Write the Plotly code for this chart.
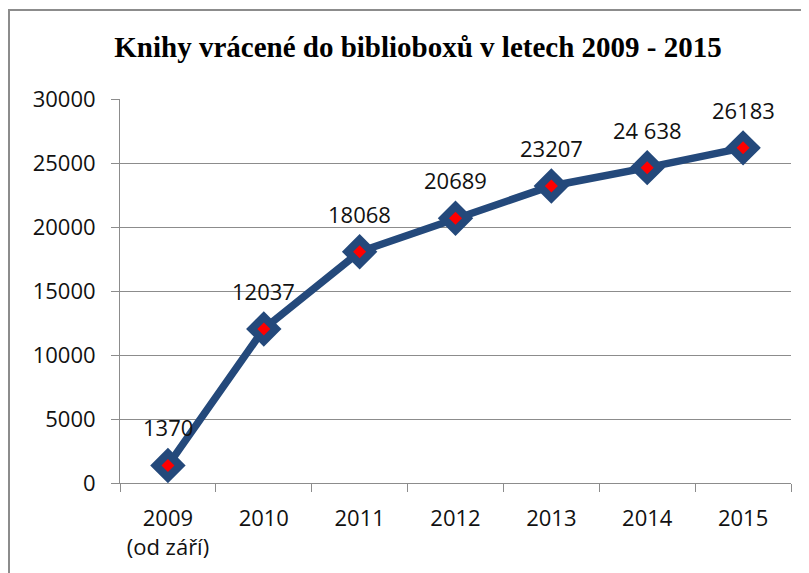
import plotly.graph_objects as go

years = ["2009<br>(od září)", "2010", "2011", "2012", "2013", "2014", "2015"]
values = [1370, 12037, 18068, 20689, 23207, 24638, 26183]
labels = ["1370", "12037", "18068", "20689", "23207", "24 638", "26183"]
y_ticks = [0, 5000, 10000, 15000, 20000, 25000, 30000]

OFF = 8  # page body margin
W, H = 809, 573
L, T = 120 - OFF, 99 - OFF
pw, ph = 671, 384
R, B = W - L - pw, H - T - ph

def px(x):
    return (x - OFF - L) / pw

def py(y):
    return (T + ph - (y - OFF)) / ph

blue = "#24497B"
font_fam = "Open Sans, Lato, sans-serif"

fig = go.Figure()
fig.add_trace(go.Scatter(
    x=years, y=values, mode="lines+markers",
    line=dict(color=blue, width=7.5),
    marker=dict(symbol="diamond", size=24, color=blue, line=dict(color=blue, width=3)),
    hoverinfo="skip", showlegend=False,
))
fig.add_trace(go.Scatter(
    x=years, y=values, mode="markers",
    marker=dict(symbol="diamond", size=10, color="#FF0000"),
    showlegend=False,
))
for i, (yv, lab) in enumerate(zip(values, labels)):
    fig.add_annotation(
        x=i, y=yv, text=lab, showarrow=False, yshift=38,
        xanchor="center", yanchor="middle",
        font=dict(family=font_fam, size=22, color="#111111"),
    )

fig.update_layout(
    width=W, height=H,
    margin=dict(l=L, r=R, t=T, b=B, autoexpand=False),
    paper_bgcolor="white", plot_bgcolor="white",
    title=dict(
        text="<b>Knihy vrácené do biblioboxů v letech 2009 - 2015</b>",
        x=(418 - OFF) / W, xanchor="center",
        y=1 - (47 - OFF) / H, yanchor="middle",
        font=dict(family="Liberation Serif, Times New Roman, serif", size=29, color="black"),
    ),
    font=dict(family=font_fam, size=22, color="#111111"),
    shapes=[dict(
        type="rect", xref="paper", yref="paper",
        x0=px(9), x1=px(830), y0=py(600), y1=py(10),
        line=dict(color="#8C8C8C", width=2), fillcolor="rgba(0,0,0,0)", layer="below",
    )],
)

fig.update_xaxes(
    type="category", showgrid=False, showline=True, linecolor="#8C8C8C", linewidth=1,
    ticks="outside", tickson="boundaries", ticklen=8, tickcolor="#8C8C8C",
    tickfont=dict(family=font_fam, size=22, color="#111111"),
    ticklabelstandoff=16,
    range=[-0.5, 6.5], automargin=False,
)
fig.update_yaxes(
    range=[0, 30000], tickvals=y_ticks, ticktext=[str(v) for v in y_ticks],
    showgrid=True, gridcolor="#8C8C8C", gridwidth=1,
    showline=True, linecolor="#8C8C8C", linewidth=1,
    ticks="outside", ticklen=8, tickcolor="#8C8C8C",
    tickfont=dict(family=font_fam, size=22, color="#111111"),
    ticklabelstandoff=11,
    zeroline=False, automargin=False,
)

fig.write_html("out.html")
